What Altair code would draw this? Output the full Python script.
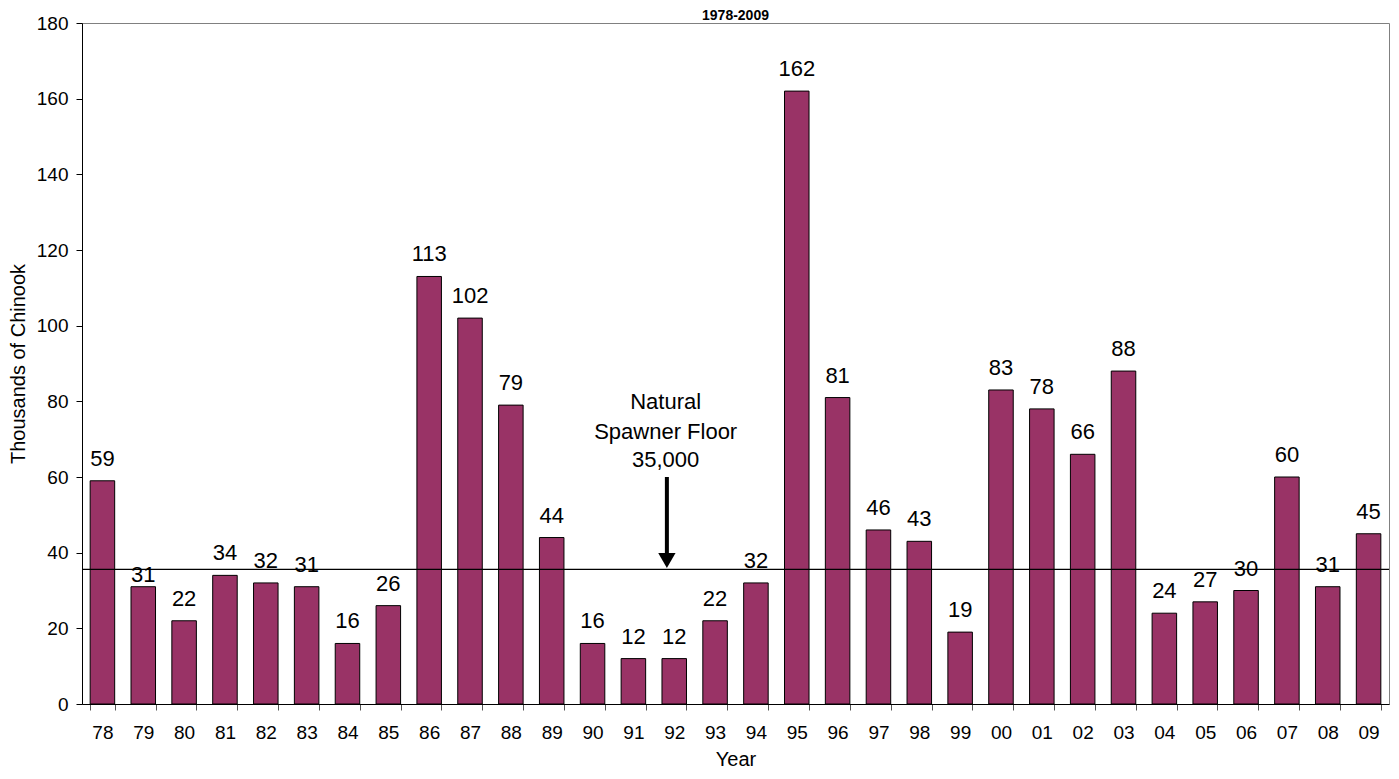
import altair as alt
import pandas as pd

years = ["78","79","80","81","82","83","84","85","86","87","88","89","90","91","92","93",
         "94","95","96","97","98","99","00","01","02","03","04","05","06","07","08","09"]
values = [59,31,22,34,32,31,16,26,113,102,79,44,16,12,12,22,
          32,162,81,46,43,19,83,78,66,88,24,27,30,60,31,45]
floor_level = [35.6]
note_lines = ["Natural", "Spawner Floor", "35,000"]
note_y = [79.8, 71.9, 64.6]
arrow_top = [60]
arrow_tip = [37.9]
arrow_year = ["92"]
title_text = ["1978-2009"]

df = pd.DataFrame({"year": years, "value": values})
FONT = "Liberation Sans"
W, H = 1307, 681
xscale = alt.Scale(domain=years, paddingInner=0.4, paddingOuter=0.2)
yscale = alt.Scale(domain=[0, 180])

base = alt.Chart(df)
bars = base.mark_bar(color="#993366", stroke="black", strokeWidth=1).encode(
    x=alt.X("year:N", sort=years, scale=xscale,
            axis=alt.Axis(title="Year", labelAngle=0, tickBand="extent", labelFontSize=19,
                          titleFontSize=20, titleFontWeight="normal", labelPadding=13,
                          titlePadding=7, tickSize=6, domainColor="black", tickColor="#555",
                          labelColor="black", titleColor="black", labelFont=FONT, titleFont=FONT)),
    y=alt.Y("value:Q", scale=yscale,
            axis=alt.Axis(title="Thousands of Chinook", values=list(range(0, 181, 20)),
                          grid=False, labelFontSize=19, titleFontSize=20,
                          titleFontWeight="normal", tickSize=6, labelPadding=8, titlePadding=8,
                          domainColor="black", tickColor="black", labelColor="black",
                          titleColor="black", labelFont=FONT, titleFont=FONT)),
)
labels = base.transform_filter(alt.datum.year != "79").mark_text(
    baseline="bottom", dy=-10, fontSize=22, font=FONT, color="black").encode(
    x=alt.X("year:N", sort=years, scale=xscale),
    y=alt.Y("value:Q", scale=yscale),
    text="value:Q",
)
label79 = base.transform_filter(alt.datum.year == "79").mark_text(
    baseline="bottom", dy=0, fontSize=22, font=FONT, color="black").encode(
    x=alt.X("year:N", sort=years, scale=xscale),
    y=alt.Y("value:Q", scale=yscale),
    text="value:Q",
)
floor = alt.Chart(pd.DataFrame({"f": floor_level})).mark_rule(color="black", strokeWidth=1.2).encode(
    y=alt.Y("f:Q", scale=yscale)
)
note_df = pd.DataFrame({"t": note_lines, "y": note_y, "year": arrow_year * len(note_lines)})
note = alt.Chart(note_df).mark_text(fontSize=22, font=FONT, color="black", baseline="middle").encode(
    x=alt.X("year:N", scale=xscale, bandPosition=0.15),
    y=alt.Y("y:Q", scale=yscale),
    text="t:N",
)
arr_df = pd.DataFrame({"year": arrow_year, "top": arrow_top, "tip": arrow_tip})
shaft = alt.Chart(arr_df).mark_rule(color="black", strokeWidth=4).encode(
    x=alt.X("year:N", scale=xscale, bandPosition=0.2),
    y=alt.Y("top:Q", scale=yscale),
    y2=alt.Y2("tip:Q"),
)
head = alt.Chart(arr_df).mark_point(shape="triangle-down", filled=True, color="black", size=300, opacity=1).encode(
    x=alt.X("year:N", scale=xscale, bandPosition=0.2),
    y=alt.Y("tip:Q", scale=yscale),
)
title = alt.Chart(pd.DataFrame({"t": title_text, "y": [180]})).mark_text(
    fontSize=14, fontWeight="bold", font=FONT, color="black", baseline="alphabetic", dy=-3).encode(
    x=alt.value(W / 2),
    y=alt.Y("y:Q", scale=yscale),
    text="t:N",
)

chart = alt.layer(bars, floor, labels, label79, note, shaft, head, title).properties(
    width=W, height=H,
    autosize=alt.AutoSizeParams(type="none"),
    padding={"left": 74, "top": 15, "right": 2, "bottom": 67},
).configure_view(stroke="#808080", strokeWidth=1)

chart.save("out.html", embed_options={"renderer": "svg", "actions": False})
